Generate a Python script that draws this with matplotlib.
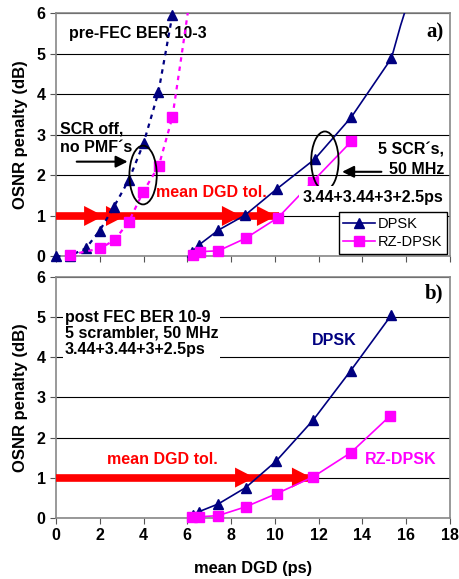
import numpy as np
import matplotlib.pyplot as plt
from matplotlib.patches import Ellipse

plt.rcParams['font.family'] = ['Liberation Sans', 'DejaVu Sans']
plt.rcParams['font.weight'] = 'bold'
plt.rcParams['font.size'] = 11.5

navy = '#000080'
mag = '#FF00FF'

#%% Data - panel a) pre-FEC BER 1e-3
a_off_dpsk_x = [0, 0.64, 1.36, 2.0, 2.65, 3.33, 4.0, 4.68, 5.32]
a_off_dpsk_y = [0, 0.02, 0.2, 0.64, 1.23, 1.89, 2.79, 4.05, 5.96]
a_off_rz_x = [0.64, 2.03, 2.68, 3.33, 3.97, 4.7, 5.32]
a_off_rz_y = [0.04, 0.2, 0.41, 0.86, 1.58, 2.24, 3.44]
a_off_rz_ext_x = [5.32, 5.75, 6.1]          # dotted curve leaving the top
a_off_rz_ext_y = [3.44, 5.0, 6.3]

a_scr_dpsk_x = [6.2, 6.52, 7.42, 8.64, 10.1, 11.82, 13.5, 15.33]
a_scr_dpsk_y = [0.1, 0.28, 0.65, 1.02, 1.67, 2.4, 3.44, 4.89]
a_scr_dpsk_ext_x = [15.33, 15.75, 16.1]
a_scr_dpsk_ext_y = [4.89, 5.7, 6.3]
a_scr_rz_x = [6.24, 6.58, 7.42, 8.67, 10.15, 11.73, 13.5]
a_scr_rz_y = [0.04, 0.12, 0.14, 0.45, 0.96, 1.85, 2.84]
a_tol = [2.3, 3.3, 8.6, 10.2]

#%% Data - panel b) post-FEC BER 1e-9
b_dpsk_x = [6.27, 6.54, 7.41, 8.67, 10.06, 11.76, 13.47, 15.33]
b_dpsk_y = [0.06, 0.15, 0.34, 0.75, 1.41, 2.44, 3.67, 5.06]
b_rz_x = [6.2, 6.54, 7.41, 8.67, 10.09, 11.76, 13.47, 15.27]
b_rz_y = [0.02, 0.02, 0.05, 0.27, 0.6, 1.02, 1.62, 2.54]
b_tol = [9.2, 11.8]

xticks = [0, 2, 4, 6, 8, 10, 12, 14, 16, 18]
yticks = [0, 1, 2, 3, 4, 5, 6]

#%% Figure
fig = plt.figure(figsize=(4.59, 5.79), dpi=100)
ax1 = fig.add_axes([0.122, 0.557, 0.858, 0.42])
ax2 = fig.add_axes([0.122, 0.106, 0.858, 0.415])

MS = 7


def style(ax):
    ax.set_xlim(0, 18)
    ax.set_ylim(0, 6)
    ax.set_xticks(xticks)
    ax.set_yticks(yticks)
    ax.yaxis.grid(True, color='black', lw=0.8)
    ax.set_axisbelow(True)
    for s in ax.spines.values():
        s.set_color('#888888')
        s.set_linewidth(1.2)
    ax.tick_params(direction='out', length=4, color='#555555', labelsize=11.5)
    ax.set_ylabel('OSNR penalty (dB)', fontsize=12, fontweight='bold', labelpad=6)


def tol_arrows(ax, tips):
    ax.plot([0, tips[-1]], [1, 1], color='red', lw=5.5, solid_capstyle='butt', zorder=3)
    for t in tips:
        ax.annotate('', xy=(t, 1), xytext=(t - 0.6, 1),
                    arrowprops=dict(arrowstyle='-|>,head_length=0.7,head_width=0.36',
                                    color='red', lw=0, mutation_scale=20), zorder=4)


style(ax1)
style(ax2)
ax1.tick_params(labelbottom=False)
ax2.set_xlabel('mean DGD (ps)', fontsize=11.8, fontweight='bold', labelpad=13)

#%% panel a
tol_arrows(ax1, a_tol)
ax1.plot(a_off_dpsk_x, a_off_dpsk_y, ls=(0, (2, 2.2)), color=navy, lw=1.6,
         marker='^', ms=MS, zorder=5, clip_on=False)
ax1.plot(a_off_rz_x, a_off_rz_y, ls=(0, (2, 2.2)), color=mag, lw=1.6,
         marker='s', ms=MS, zorder=5, clip_on=False)
ax1.plot(a_off_rz_ext_x, a_off_rz_ext_y, ls=(0, (2, 2.2)), color=mag, lw=1.6, zorder=5)
l1, = ax1.plot(a_scr_dpsk_x, a_scr_dpsk_y, '-', color=navy, lw=1.2,
               marker='^', ms=MS, zorder=5, clip_on=False)
ax1.plot(a_scr_dpsk_ext_x, a_scr_dpsk_ext_y, '-', color=navy, lw=1.2, zorder=5)
l2, = ax1.plot(a_scr_rz_x, a_scr_rz_y, '-', color=mag, lw=1.2,
               marker='s', ms=MS, zorder=5, clip_on=False)

ax1.add_patch(Ellipse((3.98, 2.01), 1.25, 1.45, fill=False, ec='black', lw=1.3, zorder=6))
ax1.add_patch(Ellipse((12.29, 2.36), 1.25, 1.45, fill=False, ec='black', lw=1.3, zorder=6))

ax1.text(0.6, 5.5, 'pre-FEC BER 10-3', fontsize=11.5, va='center')
ax1.text(0.2, 3.15, 'SCR off,', fontsize=11.5, va='center')
ax1.text(0.2, 2.68, 'no PMF´s', fontsize=11.5, va='center')
ax1.annotate('', xy=(3.4, 2.34), xytext=(0.82, 2.34),
             arrowprops=dict(arrowstyle='-|>,head_length=0.5,head_width=0.25',
                             color='black', lw=1.5, mutation_scale=14))
ax1.text(4.55, 1.58, 'mean DGD tol.', color='red', fontsize=11.5, va='center')
ax1.text(17.75, 2.63, '5 SCR´s,', fontsize=11.5, ha='right', va='center')
ax1.text(17.75, 2.15, '50 MHz', fontsize=11.5, ha='right', va='center')
ax1.annotate('', xy=(12.95, 2.09), xytext=(15.0, 2.09),
             arrowprops=dict(arrowstyle='-|>,head_length=0.5,head_width=0.25',
                             color='black', lw=1.5, mutation_scale=14))
ax1.text(11.25, 1.46, '3.44+3.44+3+2.5ps', fontsize=11.5, va='center', zorder=7,
         bbox=dict(facecolor='white', edgecolor='none', pad=2.5))
ax1.text(17.7, 5.52, 'a)', family='Liberation Serif', fontsize=15, fontweight='bold',
         ha='right', va='center')
leg = ax1.legend([l1, l2], ['DPSK', 'RZ-DPSK'], loc='lower right', fancybox=False,
                 edgecolor='black', prop={'weight': 'normal', 'size': 10.5},
                 borderaxespad=0.2, handlelength=2.2, handletextpad=0.2,
                 borderpad=0.3, labelspacing=0.3, framealpha=1)
leg.get_frame().set_linewidth(1.0)
leg.set_zorder(8)

#%% panel b
tol_arrows(ax2, b_tol)
ax2.plot(b_dpsk_x, b_dpsk_y, '-', color=navy, lw=1.2, marker='^', ms=MS, zorder=5,
         clip_on=False)
ax2.plot(b_rz_x, b_rz_y, '-', color=mag, lw=1.2, marker='s', ms=MS, zorder=5,
         clip_on=False)
ax2.text(0.4, 4.6, 'post FEC BER 10-9\n5 scrambler, 50 MHz\n3.44+3.44+3+2.5ps',
         fontsize=11.5, va='center', linespacing=1.1,
         bbox=dict(facecolor='white', edgecolor='none', pad=1))
ax2.text(2.35, 1.46, 'mean DGD tol.', color='red', fontsize=11.5, va='center')
ax2.text(11.7, 4.43, 'DPSK', color=navy, fontsize=11.5, va='center')
ax2.text(14.1, 1.46, 'RZ-DPSK', color=mag, fontsize=11.5, va='center')
ax2.text(17.7, 5.6, 'b)', family='Liberation Serif', fontsize=15, fontweight='bold',
         ha='right', va='center')

fig.savefig('out.png', dpi=100)
